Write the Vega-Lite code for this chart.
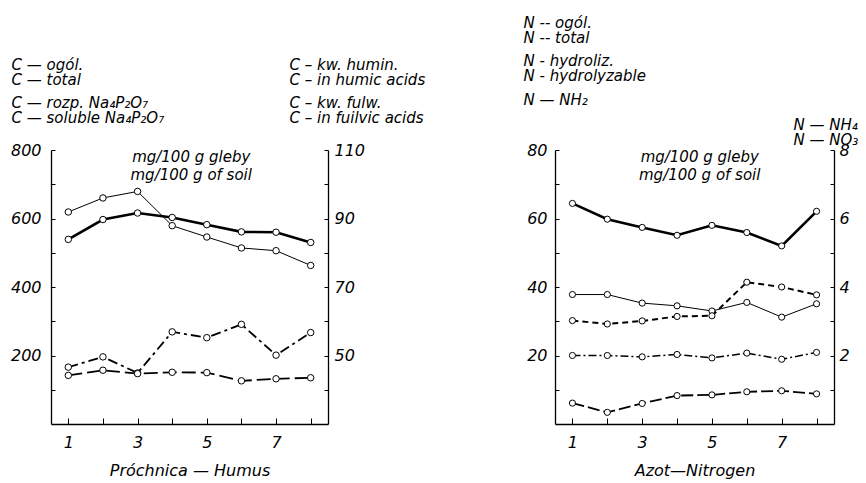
{
 "$schema": "https://vega.github.io/schema/vega-lite/v6.json",
 "background": "white",
 "padding": {"left": 10, "top": 15, "right": 5, "bottom": 5},
 "spacing": 227,
 "bounds": "flush",
 "config": {
  "view": {"stroke": null},
  "font": "DejaVu Sans",
  "axis": {"grid": false, "domainColor": "black", "domainWidth": 1.3, "tickColor": "black", "tickWidth": 1, "labelColor": "black", "labelFont": "DejaVu Sans", "labelFontStyle": "italic", "labelFontSize": 16, "titleColor": "black", "titleFont": "DejaVu Sans", "titleFontStyle": "italic", "titleFontWeight": "normal", "labelAngle": 0},
  "point": {"filled": true, "fill": "white", "stroke": "black", "strokeWidth": 1, "opacity": 1},
  "line": {"color": "black"}
 },
 "hconcat": [
  {
   "width": 277, "height": 274,
   "layer": [
    {
     "layer": [
      {
       "data": {"values": [
        {"x":1,"v":539,"s":"total"},{"x":2,"v":597,"s":"total"},{"x":3,"v":616,"s":"total"},{"x":4,"v":603,"s":"total"},{"x":5,"v":582,"s":"total"},{"x":6,"v":561,"s":"total"},{"x":7,"v":560,"s":"total"},{"x":8,"v":530,"s":"total"},
        {"x":1,"v":619,"s":"soluble"},{"x":2,"v":660,"s":"soluble"},{"x":3,"v":679,"s":"soluble"},{"x":4,"v":579,"s":"soluble"},{"x":5,"v":546,"s":"soluble"},{"x":6,"v":514,"s":"soluble"},{"x":7,"v":506,"s":"soluble"},{"x":8,"v":463,"s":"soluble"}
       ]},
       "encoding": {
        "x": {"field": "x", "type": "quantitative", "scale": {"domain": [0.5, 8.5], "nice": false, "zero": false},
         "axis": {"title": "Próchnica — Humus", "values": [1,2,3,4,5,6,7,8], "labelExpr": "datum.value % 2 == 1 ? datum.label : ''", "tickSize": -6, "labelPadding": 16, "titleFontSize": 16, "titlePadding": 12}},
        "y": {"field": "v", "type": "quantitative", "scale": {"domain": [0, 800], "nice": false},
         "axis": {"orient": "left", "values": [100,200,300,400,500,600,700,800], "labelExpr": "datum.value % 200 == 0 ? datum.label : ''", "tickSize": -4, "labelPadding": 14,
          "title": ["C — ogól.", "\u200b", "C — total", "\u200b", "\u200b", "C — rozp. Na₄P₂O₇", "\u200b", "C — soluble Na₄P₂O₇"],
          "titleAngle": 0, "titleAlign": "left", "titleBaseline": "top", "titleX": -40, "titleY": -93, "titleFontSize": 15, "titleLineHeight": 7.7}}},
       "layer": [
        {"transform": [{"filter": "datum.s == 'total'"}], "mark": {"type": "line", "strokeWidth": 2.6}},
        {"transform": [{"filter": "datum.s == 'soluble'"}], "mark": {"type": "line", "strokeWidth": 1}},
        {"mark": {"type": "point", "size": 42}}
       ]
      },
      {"data": {"values": [{"note": ["mg/100 g gleby", "mg/100 g of soil"]}]}, "mark": {"type": "text", "baseline": "top", "align": "center", "fontSize": 15, "fontStyle": "italic", "lineHeight": 18, "color": "black"},
       "encoding": {"text": {"field": "note"},
        "x": {"datum": 4.55, "type": "quantitative", "scale": {"domain": [0.5, 8.5], "nice": false, "zero": false},
         "axis": {"title": "Próchnica — Humus", "values": [1,2,3,4,5,6,7,8], "labelExpr": "datum.value % 2 == 1 ? datum.label : ''", "tickSize": -6, "labelPadding": 16, "titleFontSize": 16, "titlePadding": 12}},
        "y": {"datum": 800, "type": "quantitative", "scale": {"domain": [0, 800], "nice": false},
         "axis": {"orient": "left", "values": [100,200,300,400,500,600,700,800], "labelExpr": "datum.value % 200 == 0 ? datum.label : ''", "tickSize": -4, "labelPadding": 14,
          "title": ["C — ogól.", "\u200b", "C — total", "\u200b", "\u200b", "C — rozp. Na₄P₂O₇", "\u200b", "C — soluble Na₄P₂O₇"],
          "titleAngle": 0, "titleAlign": "left", "titleBaseline": "top", "titleX": -40, "titleY": -93, "titleFontSize": 15, "titleLineHeight": 7.7}}}}
     ]
    },
    {
     "data": {"values": [
      {"x":1,"v":46.6,"s":"humic"},{"x":2,"v":49.6,"s":"humic"},{"x":3,"v":44.9,"s":"humic"},{"x":4,"v":56.9,"s":"humic"},{"x":5,"v":55.2,"s":"humic"},{"x":6,"v":59.1,"s":"humic"},{"x":7,"v":50.1,"s":"humic"},{"x":8,"v":56.7,"s":"humic"},
      {"x":1,"v":44.2,"s":"fulvic"},{"x":2,"v":45.7,"s":"fulvic"},{"x":3,"v":44.7,"s":"fulvic"},{"x":4,"v":45.1,"s":"fulvic"},{"x":5,"v":45.0,"s":"fulvic"},{"x":6,"v":42.6,"s":"fulvic"},{"x":7,"v":43.2,"s":"fulvic"},{"x":8,"v":43.5,"s":"fulvic"}
     ]},
     "encoding": {
      "x": {"field": "x", "type": "quantitative", "scale": {"domain": [0.5, 8.5], "nice": false, "zero": false},
       "axis": {"title": "Próchnica — Humus", "values": [1,2,3,4,5,6,7,8], "labelExpr": "datum.value % 2 == 1 ? datum.label : ''", "tickSize": -6, "labelPadding": 16, "titleFontSize": 16, "titlePadding": 12}},
      "y": {"field": "v", "type": "quantitative", "scale": {"domain": [30, 110], "nice": false, "zero": false},
       "axis": {"orient": "right", "values": [40,50,60,70,80,90,100,110], "labelExpr": "(datum.value - 10) % 20 == 0 ? datum.label : ''", "tickSize": -4, "labelPadding": 10,
        "title": ["C – kw. humin.", "\u200b", "C – in humic acids", "\u200b", "\u200b", "C – kw. fulw.", "\u200b", "C – in fuilvic acids"],
        "titleAngle": 0, "titleAlign": "left", "titleBaseline": "top", "titleX": -39, "titleY": -93, "titleFontSize": 15, "titleLineHeight": 7.7}}},
     "layer": [
      {"transform": [{"filter": "datum.s == 'humic'"}], "mark": {"type": "line", "strokeWidth": 1.8, "strokeDash": [10, 4, 3, 4]}},
      {"transform": [{"filter": "datum.s == 'fulvic'"}], "mark": {"type": "line", "strokeWidth": 1.8, "strokeDash": [14, 5]}},
      {"mark": {"type": "point", "size": 42}}
     ]
    }
   ],
   "resolve": {"scale": {"y": "independent"}}
  },
  {
   "width": 279, "height": 274,
   "layer": [
    {
     "layer": [
      {
       "data": {"values": [
        {"x":1,"v":64.4,"s":"total"},{"x":2,"v":59.8,"s":"total"},{"x":3,"v":57.4,"s":"total"},{"x":4,"v":55.1,"s":"total"},{"x":5,"v":58.0,"s":"total"},{"x":6,"v":55.9,"s":"total"},{"x":7,"v":52.0,"s":"total"},{"x":8,"v":62.1,"s":"total"},
        {"x":1,"v":37.8,"s":"hydro"},{"x":2,"v":37.8,"s":"hydro"},{"x":3,"v":35.3,"s":"hydro"},{"x":4,"v":34.5,"s":"hydro"},{"x":5,"v":33.0,"s":"hydro"},{"x":6,"v":35.5,"s":"hydro"},{"x":7,"v":31.2,"s":"hydro"},{"x":8,"v":35.1,"s":"hydro"},
        {"x":1,"v":20.0,"s":"nh2"},{"x":2,"v":20.0,"s":"nh2"},{"x":3,"v":19.6,"s":"nh2"},{"x":4,"v":20.3,"s":"nh2"},{"x":5,"v":19.3,"s":"nh2"},{"x":6,"v":20.7,"s":"nh2"},{"x":7,"v":18.9,"s":"nh2"},{"x":8,"v":20.9,"s":"nh2"}
       ]},
       "encoding": {
        "x": {"field": "x", "type": "quantitative", "scale": {"domain": [0.5, 8.5], "nice": false, "zero": false},
         "axis": {"title": "Azot—Nitrogen", "values": [1,2,3,4,5,6,7,8], "labelExpr": "datum.value % 2 == 1 ? datum.label : ''", "tickSize": -6, "labelPadding": 16, "titleFontSize": 16, "titlePadding": 12}},
        "y": {"field": "v", "type": "quantitative", "scale": {"domain": [0, 80], "nice": false},
         "axis": {"orient": "left", "values": [10,20,30,40,50,60,70,80], "labelExpr": "datum.value % 20 == 0 ? datum.label : ''", "tickSize": -4, "labelPadding": 12,
          "title": ["N -- ogól.", "\u200b", "N -- total", "\u200b", "\u200b", "N - hydroliz.", "\u200b", "N - hydrolyzable", "\u200b", "\u200b", "N — NH₂"],
          "titleAngle": 0, "titleAlign": "left", "titleBaseline": "top", "titleX": -32, "titleY": -135, "titleFontSize": 15, "titleLineHeight": 7.7}}},
       "layer": [
        {"transform": [{"filter": "datum.s == 'total'"}], "mark": {"type": "line", "strokeWidth": 2.6}},
        {"transform": [{"filter": "datum.s == 'hydro'"}], "mark": {"type": "line", "strokeWidth": 1}},
        {"transform": [{"filter": "datum.s == 'nh2'"}], "mark": {"type": "line", "strokeWidth": 1.5, "strokeDash": [8, 3, 2, 3]}},
        {"mark": {"type": "point", "size": 38}}
       ]
      },
      {"data": {"values": [{"note": ["mg/100 g gleby", "mg/100 g of soil"]}]}, "mark": {"type": "text", "baseline": "top", "align": "center", "fontSize": 15, "fontStyle": "italic", "lineHeight": 18, "color": "black"},
       "encoding": {"text": {"field": "note"},
        "x": {"datum": 4.65, "type": "quantitative", "scale": {"domain": [0.5, 8.5], "nice": false, "zero": false},
         "axis": {"title": "Azot—Nitrogen", "values": [1,2,3,4,5,6,7,8], "labelExpr": "datum.value % 2 == 1 ? datum.label : ''", "tickSize": -6, "labelPadding": 16, "titleFontSize": 16, "titlePadding": 12}},
        "y": {"datum": 80, "type": "quantitative", "scale": {"domain": [0, 80], "nice": false},
         "axis": {"orient": "left", "values": [10,20,30,40,50,60,70,80], "labelExpr": "datum.value % 20 == 0 ? datum.label : ''", "tickSize": -4, "labelPadding": 12,
          "title": ["N -- ogól.", "\u200b", "N -- total", "\u200b", "\u200b", "N - hydroliz.", "\u200b", "N - hydrolyzable", "\u200b", "\u200b", "N — NH₂"],
          "titleAngle": 0, "titleAlign": "left", "titleBaseline": "top", "titleX": -32, "titleY": -135, "titleFontSize": 15, "titleLineHeight": 7.7}}}}
     ]
    },
    {
     "data": {"values": [
      {"x":1,"v":3.02,"s":"nh4"},{"x":2,"v":2.92,"s":"nh4"},{"x":3,"v":3.01,"s":"nh4"},{"x":4,"v":3.14,"s":"nh4"},{"x":5,"v":3.16,"s":"nh4"},{"x":6,"v":4.14,"s":"nh4"},{"x":7,"v":4.00,"s":"nh4"},{"x":8,"v":3.77,"s":"nh4"},
      {"x":1,"v":0.61,"s":"no3"},{"x":2,"v":0.34,"s":"no3"},{"x":3,"v":0.60,"s":"no3"},{"x":4,"v":0.83,"s":"no3"},{"x":5,"v":0.85,"s":"no3"},{"x":6,"v":0.94,"s":"no3"},{"x":7,"v":0.97,"s":"no3"},{"x":8,"v":0.88,"s":"no3"}
     ]},
     "encoding": {
      "x": {"field": "x", "type": "quantitative", "scale": {"domain": [0.5, 8.5], "nice": false, "zero": false},
       "axis": {"title": "Azot—Nitrogen", "values": [1,2,3,4,5,6,7,8], "labelExpr": "datum.value % 2 == 1 ? datum.label : ''", "tickSize": -6, "labelPadding": 16, "titleFontSize": 16, "titlePadding": 12}},
      "y": {"field": "v", "type": "quantitative", "scale": {"domain": [0, 8], "nice": false},
       "axis": {"orient": "right", "values": [1,2,3,4,5,6,7,8], "labelExpr": "datum.value % 2 == 0 ? datum.label : ''", "tickSize": -4, "labelPadding": 9,
        "title": ["N — NH₄", "\u200b", "N — NO₃"],
        "titleAngle": 0, "titleAlign": "left", "titleBaseline": "top", "titleX": -41, "titleY": -33, "titleFontSize": 15, "titleLineHeight": 7.7}}},
     "layer": [
      {"transform": [{"filter": "datum.s == 'nh4'"}], "mark": {"type": "line", "strokeWidth": 2, "strokeDash": [6, 4]}},
      {"transform": [{"filter": "datum.s == 'no3'"}], "mark": {"type": "line", "strokeWidth": 1.8, "strokeDash": [12, 4]}},
      {"mark": {"type": "point", "size": 38}}
     ]
    }
   ],
   "resolve": {"scale": {"y": "independent"}}
  }
 ]
}
